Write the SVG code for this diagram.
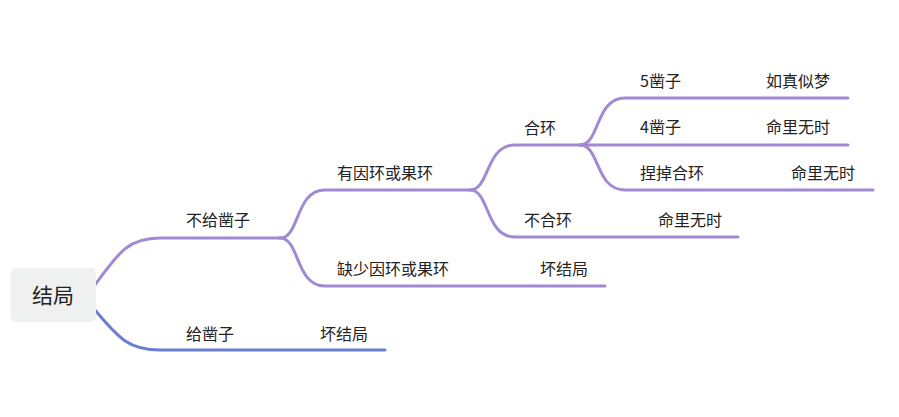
<svg xmlns="http://www.w3.org/2000/svg" width="899" height="417" viewBox="0 0 899 417">
<style>
.p{fill:none;stroke:#a18ad4;stroke-width:3;stroke-linecap:round}
.b{fill:none;stroke:#6a7fd2;stroke-width:3;stroke-linecap:round}
text{font-family:"Noto Sans CJK SC","Liberation Sans",sans-serif;font-size:16px;fill:#222}
</style>
<rect width="899" height="417" fill="#fff"/>
<g id="connectors">
<path class="p" d="M95,285 C120,250 130,238 160,238 H280"/>
<path class="b" d="M95,310 C120,340 130,350 160,350 H385"/>
<path class="p" d="M280,238 C300,238 295,190 325,190 H470"/>
<path class="p" d="M280,238 C300,238 295,286 325,286 H605"/>
<path class="p" d="M470,190 C490,190 485,145 515,145 H580"/>
<path class="p" d="M470,190 C490,190 485,237 515,237 H738"/>
<path class="p" d="M580,145 C600,145 595,98 625,98 H848"/>
<path class="p" d="M580,145 H848"/>
<path class="p" d="M580,145 C600,145 595,190 625,190 H873"/>
</g>
<g id="root"><rect x="11" y="268" width="85" height="54" rx="5" fill="#eff1f1"/><text x="53" y="303" text-anchor="middle" style="font-size:21px">结局</text></g>
<g id="n1"><text x="186" y="226">不给凿子</text></g>
<g id="n2"><text x="186" y="340">给凿子</text><text x="320" y="340">坏结局</text></g>
<g id="n3"><text x="337" y="179">有因环或果环</text></g>
<g id="n4"><text x="337" y="275">缺少因环或果环</text><text x="540" y="275">坏结局</text></g>
<g id="n5"><text x="524" y="134">合环</text></g>
<g id="n6"><text x="524" y="226">不合环</text><text x="658" y="226">命里无时</text></g>
<g id="n7"><text x="640" y="87">5凿子</text><text x="766" y="87">如真似梦</text></g>
<g id="n8"><text x="640" y="133">4凿子</text><text x="766" y="133">命里无时</text></g>
<g id="n9"><text x="640" y="179">捏掉合环</text><text x="791" y="179">命里无时</text></g>
</svg>
